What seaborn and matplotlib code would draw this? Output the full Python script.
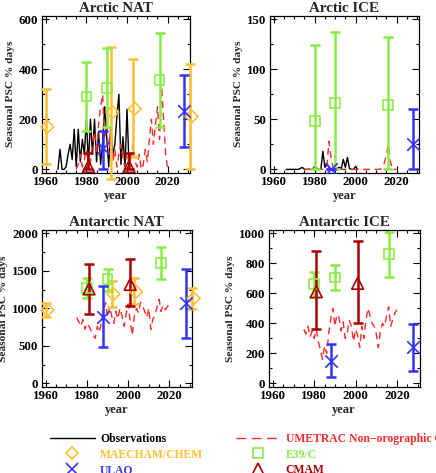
import numpy as np
import pandas as pd
import matplotlib
matplotlib.use("Agg")
import matplotlib.pyplot as plt
import seaborn as sns
from matplotlib.lines import Line2D
from matplotlib.ticker import MultipleLocator

# ---------------- data ----------------
obs_years = list(range(1966, 2002))
obs_arctic_nat = [0, 80, 0, 0, 10, 60, 100, 40, 160, 10, 160, 30, 120, 60, 200, 20,
                  200, 60, 200, 30, 150, 20, 110, 250, 130, 10, 170, 60, 100, 210,
                  300, 20, 130, 10, 240, 10]
obs_arctic_ice = [0, 0, 0, 0, 0, 0, 0, 1, 2, 0, 0, 0, 0, 0, 3, 1, 0, 0, 18, 2, 6, 2,
                  0, 0, 0, 1, 2, 1, 10, 2, 12, 1, 0, 0, 3, 0]

um_years = list(range(1975, 2021))
um_arctic_nat = [0, 20, 60, 10, 40, 80, 0, 30, 100, 150, 60, 180, 250, 300, 120, 200,
                 60, 150, 30, 80, 10, 60, 100, 40, 10, 70, 20, 50, 100, 30, 10, 60,
                 0, 20, 80, 30, 120, 200, 100, 180, 250, 120, 330, 200, 60, 0]
um_arctic_ice = [0, 0, 0, 0, 0, 0, 0, 0, 0, 0, 0, 4, 28, 12, 2, 0, 0, 0, 0, 0, 0, 0,
                 0, 0, 0, 0, 0, 0, 0, 0, 0, 0, 0, 0, 0, 0, 0, 0, 2, 6, 14, 25, 8, 0, 0, 0]
um_antarctic_nat = [880, 820, 760, 850, 720, 800, 760, 700, 640, 600, 760, 680, 820,
                    950, 1080, 880, 1020, 900, 800, 960, 860, 1000, 900, 760, 920,
                    1060, 820, 640, 900, 1000, 940, 1080, 1040, 960, 880, 1000, 720,
                    860, 900, 1020, 1120, 960, 1040, 980, 1020, 1060]
um_antarctic_ice = [360, 330, 380, 310, 350, 300, 360, 280, 220, 160, 250, 200, 330,
                    430, 500, 380, 460, 440, 350, 410, 300, 340, 420, 380, 280, 360,
                    320, 240, 380, 300, 420, 500, 450, 400, 380, 330, 240, 350, 400,
                    380, 450, 510, 380, 430, 470, 490]

maecham_x = [1960, 1992, 2003, 2031]
maecham_arctic_nat = [170, 228, 242, 211]
maecham_arctic_nat_lo = [20, -40, 49, 0]
maecham_arctic_nat_hi = [321, 490, 440, 422]
maecham_antarctic_nat = [978, 1190, 1222, 1133]
maecham_antarctic_nat_lo = [890, 1020, 1058, 990]
maecham_antarctic_nat_hi = [1067, 1370, 1400, 1275]

e39_x = [1980, 1990, 2016]
e39_arctic_nat = [291, 325, 358]
e39_arctic_nat_lo = [155, 168, 170]
e39_arctic_nat_hi = [430, 485, 545]
e39_arctic_ice = [48, 66, 64]
e39_arctic_ice_lo = [0, 0, 0]
e39_arctic_ice_hi = [124, 137, 132]
e39_antarctic_nat = [1270, 1390, 1600]
e39_antarctic_nat_lo = [1133, 1231, 1390]
e39_antarctic_nat_hi = [1400, 1530, 1820]
e39_antarctic_ice = [662, 705, 860]
e39_antarctic_ice_lo = [573, 622, 712]
e39_antarctic_ice_hi = [745, 790, 1010]

ulaq_x = [1988, 2028]
ulaq_arctic_nat = [85, 233]
ulaq_arctic_nat_lo = [0, 90]
ulaq_arctic_nat_hi = [155, 378]
ulaq_arctic_ice = [0, 25]
ulaq_arctic_ice_lo = [0, 0]
ulaq_arctic_ice_hi = [0, 60]
ulaq_antarctic_nat = [889, 1067]
ulaq_antarctic_nat_lo = [490, 610]
ulaq_antarctic_nat_hi = [1300, 1520]
ulaq_antarctic_ice = [150, 240]
ulaq_antarctic_ice_lo = [40, 80]
ulaq_antarctic_ice_hi = [265, 395]

cmam_x = [1981, 2001]
cmam_arctic_nat = [12, 12]
cmam_arctic_nat_lo = [0, 0]
cmam_arctic_nat_hi = [65, 65]
cmam_antarctic_nat = [1260, 1320]
cmam_antarctic_nat_lo = [925, 1030]
cmam_antarctic_nat_hi = [1590, 1660]
cmam_antarctic_ice = [611, 667]
cmam_antarctic_ice_lo = [365, 400]
cmam_antarctic_ice_hi = [880, 950]

titles = ["Arctic NAT", "Arctic ICE", "Antarctic NAT", "Antarctic ICE"]
ymax = [600, 150, 2000, 1000]
ymajor = [200, 50, 500, 200]
xticks = [1960, 1980, 2000, 2020]

# ---------------- style ----------------
sns.set_theme(style="ticks")
plt.rcParams['font.family'] = ['Liberation Serif', 'DejaVu Serif']
plt.rcParams['font.weight'] = 'bold'
plt.rcParams['axes.labelweight'] = 'bold'
plt.rcParams['axes.titleweight'] = 'bold'

C_OBS = 'black'
C_UM = '#FF2A2A'
C_MAE = '#FFC030'
C_E39 = '#88EE44'
C_ULAQ = '#3333FF'
C_CMAM = '#A80000'

fig = plt.figure(figsize=(4.36, 4.73), dpi=100)
W, H = 436, 473
boxes = [(41.7, 15.7, 190.0, 172.7), (269.7, 15.7, 419.0, 172.7),
         (41.7, 230.0, 192.0, 386.7), (268.7, 230.0, 419.7, 386.7)]
axes = []
for (l, t, r, b) in boxes:
    axes.append(fig.add_axes([l / W, 1 - b / H, (r - l) / W, (b - t) / H]))

dash = (0, (5, 3.5))


def errbars(ax, x, y, lo, hi, color, marker, ms, clip=True, mx=None):
    y = np.asarray(y, float)
    yerr = [y - np.asarray(lo, float), np.asarray(hi, float) - y]
    eb = ax.errorbar(x, y, yerr=yerr, fmt='none', ecolor=color, elinewidth=1.8,
                     capsize=3.6, capthick=1.8, zorder=4)
    for part in eb.lines[1] + eb.lines[2]:
        part.set_clip_on(clip)
    df = pd.DataFrame({'x': x if mx is None else mx, 'y': y})
    if marker == 'x':
        sns.scatterplot(data=df, x='x', y='y', marker='x', s=ms ** 2, color=color,
                        linewidth=1.2, ax=ax, zorder=5, clip_on=clip, legend=False)
    else:
        sns.scatterplot(data=df, x='x', y='y', marker=marker, s=ms ** 2,
                        facecolor='none', edgecolor=color, linewidth=1.2, ax=ax,
                        zorder=5, clip_on=clip, legend=False)


panels = [
    dict(obs=obs_arctic_nat, um=um_arctic_nat,
         mae=(maecham_arctic_nat, maecham_arctic_nat_lo, maecham_arctic_nat_hi),
         e39=(e39_arctic_nat, e39_arctic_nat_lo, e39_arctic_nat_hi),
         ulaq=(ulaq_arctic_nat, ulaq_arctic_nat_lo, ulaq_arctic_nat_hi),
         cmam=(cmam_arctic_nat, cmam_arctic_nat_lo, cmam_arctic_nat_hi)),
    dict(obs=obs_arctic_ice, um=um_arctic_ice, mae=None,
         e39=(e39_arctic_ice, e39_arctic_ice_lo, e39_arctic_ice_hi),
         ulaq=(ulaq_arctic_ice, ulaq_arctic_ice_lo, ulaq_arctic_ice_hi), cmam=None),
    dict(obs=None, um=um_antarctic_nat,
         mae=(maecham_antarctic_nat, maecham_antarctic_nat_lo, maecham_antarctic_nat_hi),
         e39=(e39_antarctic_nat, e39_antarctic_nat_lo, e39_antarctic_nat_hi),
         ulaq=(ulaq_antarctic_nat, ulaq_antarctic_nat_lo, ulaq_antarctic_nat_hi),
         cmam=(cmam_antarctic_nat, cmam_antarctic_nat_lo, cmam_antarctic_nat_hi)),
    dict(obs=None, um=um_antarctic_ice, mae=None,
         e39=(e39_antarctic_ice, e39_antarctic_ice_lo, e39_antarctic_ice_hi),
         ulaq=(ulaq_antarctic_ice, ulaq_antarctic_ice_lo, ulaq_antarctic_ice_hi),
         cmam=(cmam_antarctic_ice, cmam_antarctic_ice_lo, cmam_antarctic_ice_hi)),
]

for i, (ax, p) in enumerate(zip(axes, panels)):
    if p['obs'] is not None:
        sns.lineplot(x=obs_years, y=p['obs'], color=C_OBS, linewidth=1.0, ax=ax,
                     zorder=2)
    sns.lineplot(x=um_years, y=p['um'], color=C_UM, linewidth=1.0, linestyle=dash,
                 ax=ax, zorder=3)
    if p['mae'] is not None:
        errbars(ax, maecham_x, *p['mae'], C_MAE, 'D', 6.5, clip=False,
                mx=[v + 0.8 for v in maecham_x])
    if p['e39'] is not None:
        errbars(ax, e39_x, *p['e39'], C_E39, 's', 7)
    if p['ulaq'] is not None:
        errbars(ax, ulaq_x, *p['ulaq'], C_ULAQ, 'x', 9)
    if p['cmam'] is not None:
        errbars(ax, cmam_x, *p['cmam'], C_CMAM, '^', 8.5)

    ax.set_xlim(1958, 2031)
    m = ymax[i]
    ax.set_ylim(-0.022 * m, 1.022 * m)
    ax.set_xticks(xticks)
    ax.xaxis.set_minor_locator(MultipleLocator(5))
    ax.yaxis.set_major_locator(MultipleLocator(ymajor[i]))
    ax.yaxis.set_minor_locator(MultipleLocator(ymajor[i] / 2))
    ax.tick_params(which='both', direction='in', top=True, right=True,
                   colors='black', labelsize=9.3, width=0.8, pad=2.5)
    ax.tick_params(which='major', length=5)
    ax.tick_params(which='minor', length=2.5)
    for lab in ax.get_xticklabels() + ax.get_yticklabels():
        lab.set_fontweight('bold')
    for s in ax.spines.values():
        s.set_visible(True)
        s.set_color('black')
        s.set_linewidth(0.9)
    ax.set_title(titles[i], fontsize=10.8, fontweight='bold', pad=3)
    ax.set_xlabel('year', fontsize=9, fontweight='bold', labelpad=1.0)
    ax.set_ylabel('Seasonal PSC % days', fontsize=8.2, fontweight='bold', labelpad=3)
    ax.set_facecolor('white')

handles = [
    Line2D([], [], color=C_OBS, lw=1.0),
    Line2D([], [], marker='D', ls='none', mfc='none', mec=C_MAE, ms=6.5, mew=1.2),
    Line2D([], [], marker='x', ls='none', color=C_ULAQ, ms=9, mew=1.2),
    Line2D([], [], color=C_UM, lw=1.0, ls=(0, (7, 4))),
    Line2D([], [], marker='s', ls='none', mfc='none', mec=C_E39, ms=7, mew=1.2),
    Line2D([], [], marker='^', ls='none', mfc='none', mec=C_CMAM, ms=8.5, mew=1.2),
]
labels = ['Observations', 'MAECHAM/CHEM', 'ULAQ',
          'UMETRAC Non\u2212orographic GW', 'E39/C', 'CMAM']
leg = fig.legend(handles, labels, ncol=2, loc='upper left',
                 bbox_to_anchor=(50 / W, 1 - 433 / H), frameon=False,
                 handlelength=3.85, handletextpad=0.45,
                 columnspacing=2.75, labelspacing=0.3, borderpad=0,
                 borderaxespad=0,
                 labelcolor=[C_OBS, C_MAE, C_ULAQ, C_UM, C_E39, C_CMAM],
                 prop={'weight': 'bold', 'size': 8.4})

fig.savefig('out.png', dpi=100, facecolor='white')
